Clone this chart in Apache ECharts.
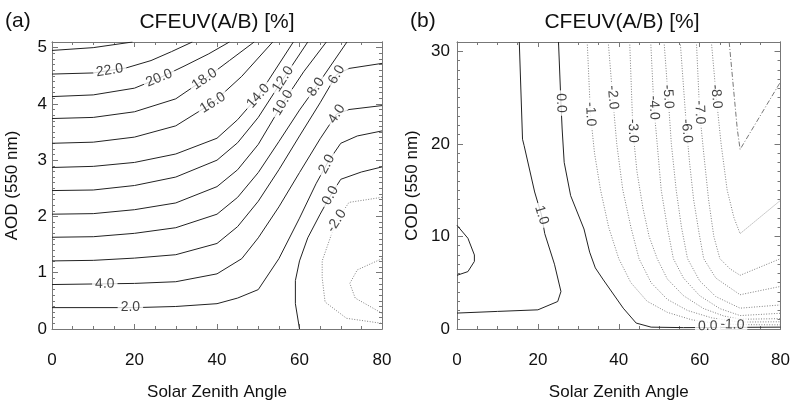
<!DOCTYPE html>
<html>
<head>
<meta charset="utf-8">
<script src="https://cdn.jsdelivr.net/npm/echarts@6/dist/echarts.min.js"></script>
<style>
html, body { margin: 0; padding: 0; background: #fff; }
#main { width: 793px; height: 406px; }
</style>
</head>
<body>
<div id="main"></div>
<script>
// ---- panel (a): contour lines, [solar zenith angle, AOD] ----
var a24 = [[0,4.95],[10,5.0],[19.5,5.1]];
var a22 = [[0,4.53],[10,4.55],[18,4.64],[24,4.77],[29,4.93],[34,5.1]];
var a20 = [[0,4.13],[10,4.16],[20,4.28],[26,4.46],[32,4.67],[38,4.89],[43,5.1]];
var a18 = [[0,3.74],[10,3.76],[20,3.86],[30,4.09],[37,4.44],[43,4.77],[49,5.1]];
var a16 = [[0,3.30],[10,3.32],[20,3.41],[30,3.61],[39,4.02],[46,4.49],[53.5,5.1]];
var a14 = [[0,2.87],[10,2.89],[20,2.96],[30,3.11],[40,3.39],[45,3.72],[50,4.14],[58.5,5.1]];
var a12 = [[0,2.46],[10,2.47],[20,2.55],[30,2.70],[40,3.00],[45,3.31],[50,3.76],[56,4.44],[62,5.1]];
var a10 = [[0,2.04],[10,2.05],[20,2.12],[30,2.24],[40,2.53],[45,2.83],[50,3.28],[56,4.02],[61,4.57],[66.5,5.1]];
var a8 = [[0,1.63],[10,1.64],[20,1.70],[30,1.80],[40,2.04],[45,2.34],[50,2.78],[55,3.33],[60,3.89],[64,4.30],[71.5,5.1]];
var a6 = [[0,1.21],[10,1.22],[20,1.26],[30,1.32],[40,1.52],[45,1.82],[50,2.27],[55,2.83],[60,3.43],[65,4.02],[69,4.52],[72,4.63],[80,4.72]];
var a4 = [[0,0.79],[10,0.80],[20,0.81],[30,0.84],[40,0.98],[46,1.25],[50,1.62],[55,2.17],[60,2.78],[65,3.38],[69,3.82],[72,3.90],[80,3.97]];
var a2 = [[0,0.38],[20,0.38],[30,0.40],[40,0.45],[45,0.55],[50,0.70],[55,1.25],[60,1.97],[64,2.58],[67,2.98],[70,3.30],[74,3.43],[80,3.52]];
var a0 = [[60,0],[59,0.45],[59,0.86],[60,1.21],[62,1.62],[65,2.04],[67.5,2.37],[70,2.66],[75,2.79],[80,2.88]];
var aM2 = [[80,2.34],[72,2.25],[69,1.92],[67.4,1.61],[65.5,1.21],[65.5,0.91],[66.2,0.48],[71.4,0.19],[80,0.10]];
var aM4 = [[80,1.25],[74,1.05],[72.2,0.81],[73.5,0.55],[80,0.28]];
var levelsA = [24, 22, 20, 18, 16, 14, 12, 10, 8, 6, 4, 2, 0, -2, -4];
var linesA = [a24, a22, a20, a18, a16, a14, a12, a10, a8, a6, a4, a2, a0, aM2, aM4];
// [level, sza, aod] where the level is written on its line
var labelsA = [[22,14,4.595],[20,26,4.46],[18,37,4.44],[16,39,4.02],[14,50,4.14],[12,56,4.44],
  [10,56,4.02],[8,64,4.30],[6,69,4.52],[4,69,3.82],[4,12.8,0.80],[2,66.6,2.93],[2,19,0.38],
  [0,67.5,2.37],[-2,69,1.92]];

// ---- panel (b): contour lines, [solar zenith angle, COD] ----
var b1 = [[15.4,31],[16.2,20.5],[16.6,19.8],[19.2,14.8],[20.9,12.3],[21.7,10.3],[24.1,7.0],[25.7,4.05],[24.9,2.97],[20,2.07],[10,1.9],[0,1.72]];
var b1blob = [[0,11.2],[2.7,9.8],[4.3,8.0],[4.3,7.3],[2.7,6.2],[0,5.8]];
var b0 = [[25.1,31],[25.7,24.4],[26,21.6],[26.5,18],[28.1,14.4],[31.4,10.8],[32.8,8.3],[34.2,6.6],[36.2,5.3],[41.1,2.25],[44.3,0.64],[48,0.2],[56,0.15],[80,0.2]];
var bM1 = [[32.2,31],[33,23.2],[34,19],[35.5,15],[37.5,11],[40,7.6],[43,5],[47,3],[52,1.8],[58,1.0],[64,0.6],[70,0.47],[80,0.45]];
var bM2 = [[37.4,31],[38.5,25],[39.5,20],[41,15],[43,11],[45,7.6],[48,5],[52,3.2],[57,2.0],[63,1.2],[70,0.75],[80,0.78]];
var bM3 = [[42.7,31],[43.5,21.4],[44.5,17],[46,13],[47.5,10],[49.5,7.6],[52,5.4],[56,3.6],[61,2.2],[66,1.4],[70,1.05],[80,1.12]];
var bM4 = [[47.9,31],[48.7,23.9],[49.5,20],[50.5,15],[52,11],[53.5,7.6],[56,5.5],[60,3.6],[65,2.2],[70,1.45],[80,1.7]];
var bM5 = [[51.2,31],[52.2,25.1],[53,20],[54.2,15],[55.5,11],[57,7.6],[60,5.2],[64,3.5],[70,2.25],[80,2.6]];
var bM6 = [[55.2,31],[56.8,21.4],[57.5,18],[58.5,14],[59.8,10.5],[61,7.6],[64,5.5],[70,3.7],[80,4.6]];
var bM7 = [[59.2,31],[60,23.4],[61,19],[62.2,14],[63.5,10],[65,7.6],[67.5,6.5],[70,5.8],[80,7.6]];
var bM8 = [[62.9,31],[64.1,25.1],[65.3,20],[66.8,15],[68.5,12],[70,10.3],[80,13.9]];
var bM9 = [[67.3,31],[69.3,21.6],[70,19.4],[80,26.7]];
var levelsB = [1, 1, 0, -1, -2, -3, -4, -5, -6, -7, -8, -9];
var linesB = [b1, b1blob, b0, bM1, bM2, bM3, bM4, bM5, bM6, bM7, bM8, bM9];
var labelsB = [[0,25.7,24.4],[-1,33,23.2],[-2,38.5,25],[-3,43.5,21.4],[-4,48.7,23.9],[-5,52.2,25.1],
  [-6,56.8,21.4],[-7,60,23.4],[-8,64.1,25.1],[1,20.9,12.3],[0,62,0.3],[-1,68.1,0.47]];

var titleText = 'CFEUV(A/B) [%]';
var fontFam = "'Liberation Sans', Arial, Helvetica, sans-serif";
var frameColor = '#777';
var textColor = '#111';

var dom = document.getElementById('main');
var myChart = echarts.init(dom);

function contourSeries(pts, lev, xi, yi) {
    var ls = {color: '#222', width: 1, type: 'solid'};
    if (lev < 0) ls = {color: '#808080', width: 1, type: [1, 1.6]};
    if (lev <= -9) ls = {color: '#777', width: 1, type: [5, 2, 1, 2]};
    return {
        type: 'line', xAxisIndex: xi, yAxisIndex: yi, data: pts,
        showSymbol: false, symbol: 'none', silent: true, clip: true, z: 2,
        lineStyle: ls
    };
}

function xAxes(grid) {
    var base = {
        gridIndex: grid, type: 'value', min: 0, max: 80, interval: 20,
        splitLine: {show: false},
        axisLine: {show: true, onZero: false, lineStyle: {color: frameColor, width: 1}},
        axisTick: {show: true, inside: true, length: 5, lineStyle: {color: frameColor}},
        minorTick: {show: true, splitNumber: 4, length: 3, lineStyle: {color: frameColor}}
    };
    return [
        Object.assign({}, base, {
            position: 'bottom',
            axisLabel: {margin: 23, fontSize: 17, color: textColor, fontFamily: fontFam},
            name: 'Solar Zenith Angle', nameLocation: 'middle', nameGap: 55,
            nameTextStyle: {fontSize: 17, color: textColor, fontFamily: fontFam}
        }),
        Object.assign({}, base, {position: 'top', axisLabel: {show: false}})
    ];
}

function yAxes(grid, max, major, minor, name, lblMargin, nameGap) {
    var base = {
        gridIndex: grid, type: 'value', min: 0, max: max,
        splitLine: {show: false},
        axisLine: {show: true, onZero: false, lineStyle: {color: frameColor, width: 1}}
    };
    var majorTick = {show: true, inside: true, length: 6, lineStyle: {color: frameColor}};
    var minorTickA = {show: true, inside: true, length: 3, lineStyle: {color: frameColor}};
    return [
        Object.assign({}, base, {
            position: 'left', interval: major, axisTick: majorTick,
            axisLabel: {margin: lblMargin, fontSize: 17, color: textColor, fontFamily: fontFam, showMaxLabel: false},
            name: name, nameLocation: 'middle', nameGap: nameGap,
            nameTextStyle: {fontSize: 17, color: textColor, fontFamily: fontFam}
        }),
        Object.assign({}, base, {position: 'left', interval: minor, axisTick: minorTickA, axisLabel: {show: false}}),
        Object.assign({}, base, {position: 'right', interval: major, axisTick: majorTick, axisLabel: {show: false}}),
        Object.assign({}, base, {position: 'right', interval: minor, axisTick: minorTickA, axisLabel: {show: false}})
    ];
}

var series = [];
linesA.forEach(function (pts, i) { series.push(contourSeries(pts, levelsA[i], 0, 0)); });
linesB.forEach(function (pts, i) { series.push(contourSeries(pts, levelsB[i], 2, 4)); });

var labelStyle = {
    show: true, position: 'inside', color: textColor, fontSize: 14, fontFamily: fontFam,
    backgroundColor: '#fff', padding: [0, 3]
};
series.push({id: 'labA', type: 'scatter', xAxisIndex: 0, yAxisIndex: 0, symbolSize: 1,
    itemStyle: {color: 'rgba(0,0,0,0)'}, silent: true, z: 5, label: labelStyle, data: []});
series.push({id: 'labB', type: 'scatter', xAxisIndex: 2, yAxisIndex: 4, symbolSize: 1,
    itemStyle: {color: 'rgba(0,0,0,0)'}, silent: true, z: 5, label: labelStyle, data: []});

var option = {
    animation: false,
    backgroundColor: '#fff',
    grid: [
        {left: 52, top: 42, width: 330, height: 289},
        {left: 457, top: 42, width: 330, height: 289}
    ],
    xAxis: xAxes(0).concat(xAxes(1)),
    yAxis: yAxes(0, 5.1, 1, 0.1, 'AOD (550 nm)', 5, 31).concat(yAxes(1, 31, 10, 1, 'COD (550 nm)', 7, 36)),
    graphic: [
        {type: 'text', x: 217, y: 22, style: {text: titleText, fontSize: 21, fontFamily: fontFam, fill: textColor, align: 'center', verticalAlign: 'middle'}},
        {type: 'text', x: 622, y: 22, style: {text: titleText, fontSize: 21, fontFamily: fontFam, fill: textColor, align: 'center', verticalAlign: 'middle'}},
        {type: 'text', x: 5, y: 21, style: {text: '(a)', fontSize: 21, fontFamily: fontFam, fill: textColor, align: 'left', verticalAlign: 'middle'}},
        {type: 'text', x: 410, y: 21, style: {text: '(b)', fontSize: 21, fontFamily: fontFam, fill: textColor, align: 'left', verticalAlign: 'middle'}}
    ],
    series: series
};
myChart.setOption(option);

// place each level label on its line, turned along the local direction of the line
function segDist(p, a, b) {
    var dx = b[0] - a[0], dy = b[1] - a[1];
    var t = ((p[0] - a[0]) * dx + (p[1] - a[1]) * dy) / (dx * dx + dy * dy || 1);
    t = Math.max(0, Math.min(1, t));
    var qx = a[0] + t * dx - p[0], qy = a[1] + t * dy - p[1];
    return Math.sqrt(qx * qx + qy * qy);
}
function buildLabels(list, levels, lines, xi, yi) {
    var finder = {xAxisIndex: xi, yAxisIndex: yi};
    return list.map(function (l) {
        var pts = lines[levels.indexOf(l[0])];
        var p = myChart.convertToPixel(finder, [l[1], l[2]]);
        var best = null, bd = Infinity;
        for (var i = 0; i < pts.length - 1; i++) {
            var a = myChart.convertToPixel(finder, pts[i]);
            var b = myChart.convertToPixel(finder, pts[i + 1]);
            var d = segDist(p, a, b);
            if (d < bd) { bd = d; best = [a, b]; }
        }
        var ang = Math.atan2(-(best[1][1] - best[0][1]), best[1][0] - best[0][0]) * 180 / Math.PI;
        if (ang > 90) ang -= 180;
        if (ang < -90) ang += 180;
        return {value: [l[1], l[2]], label: {formatter: l[0].toFixed(1), rotate: ang}};
    });
}
myChart.setOption({
    series: [
        {id: 'labA', data: buildLabels(labelsA, levelsA, linesA, 0, 0)},
        {id: 'labB', data: buildLabels(labelsB, levelsB, linesB, 2, 4)}
    ]
});
</script>
</body>
</html>
